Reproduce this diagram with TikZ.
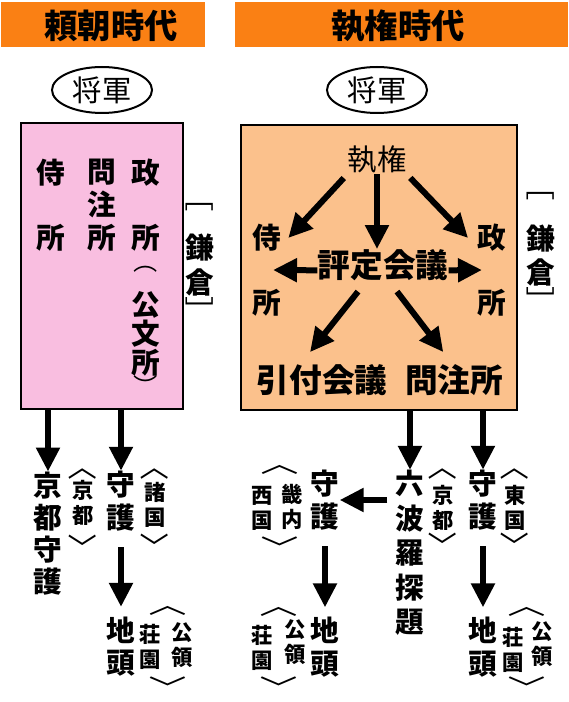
\documentclass[tikz,border=0pt]{standalone}
\usepackage{fontspec}
\newfontfamily\jp{Noto Sans CJK JP}
\usetikzlibrary{arrows.meta,shapes.geometric}
\definecolor{tangerine}{RGB}{250, 128, 20}
\definecolor{sakura}{RGB}{249, 190, 224}
\definecolor{apricot}{RGB}{251, 193, 140}

\tikzset{
  head/.style={font=\jp\bfseries\fontsize{25}{28}\selectfont, inner sep=0pt},
  col/.style={font=\jp\bfseries\fontsize{21.5}{24.5}\selectfont, align=center, inner sep=0pt},
  row/.style={font=\jp\bfseries\fontsize{24.5}{24.5}\selectfont, inner sep=0pt},
  note/.style={font=\jp\bfseries\fontsize{16}{18.75}\selectfont, align=center, inner sep=0pt},
  vbrk/.style={font=\jp\fontsize{#1}{#1}\selectfont, inner sep=0pt, rotate=-90},
  vbrk/.default=22,
  widebrk/.style={vbrk=19, yscale=1.5},
  office/.style={draw, line width=1.5pt, minimum width=#1, inner sep=0pt},
  heavy/.style={line width=4.5pt, -{Triangle[length=18pt,width=17pt]}},
}
% trimmed brackets (ink kept inside the box)
\newcommand\opn[1]{\makebox[.5em][r]{#1}}
\newcommand\cls[1]{\makebox[.5em][l]{#1}}

\begin{document}
\begin{tikzpicture}[x=0.75pt, y=-0.75pt]
            \useasboundingbox (0,0) rectangle (568,702);
            % headings
            \fill[tangerine] (1,2) rectangle (205,47);
            \fill[tangerine] (235,2) rectangle (568,47);
            \node[head] (yoritomo) at (111,26) {頼朝時代};
            \node[head] (shikkenjidai) at (398,26) {執権時代};
            % shogun
            \node[draw, ellipse, line width=1.5pt, minimum width=75pt, minimum height=34.5pt, inner sep=0pt,
                  font=\jp\fontsize{22}{22}\selectfont] (shogunL) at (102,90) {将軍};
            \node[draw, ellipse, line width=1.5pt, minimum width=75pt, minimum height=34.5pt, inner sep=0pt,
                  font=\jp\fontsize{22}{22}\selectfont] (shogunR) at (377,90) {将軍};
            % the two boxes
            \node[office=121.5pt, fill=sakura,  minimum height=214.5pt]  (boxL) at (102,266)   {};
            \node[office=207pt,   fill=apricot, minimum height=213.75pt] (boxR) at (379,267.5) {};

            % ---- Yoritomo
            \node[col] (samuraiL)  at ( 51,205) {侍\\[24.5pt]所};
            \node[col] (monchuL)   at (102,205) {問\\注\\所};
            \node[col] (mandoL)    at (146,205) {政\\[24.5pt]所};
            \node[vbrk=18] (parenA) at (146,267) {\opn{（}};
            \node[col, font=\jp\bfseries\fontsize{21.5}{22}\selectfont] (kumonjo) at (146,334) {公\\文\\所};
            \node[vbrk=18] (parenB) at (146,380) {\cls{）}};
            \node[vbrk] (kamaLa)   at (200,205) {\opn{［}};
            \node[col, font=\jp\bfseries\fontsize{21.5}{26}\selectfont] (kamakuraL) at (200,265) {鎌\\倉};
            \node[vbrk] (kamaLb)   at (200,304) {\cls{］}};

            \node[col, font=\jp\bfseries\fontsize{21.5}{24}\selectfont] (kyotoshugo) at (48,533.5) {京\\都\\守\\護};
            \node[vbrk] (kyoLa)  at ( 83,473) {\opn{〈}};
            \node[note] (kyotoL) at ( 83,502.5) {京\\都};
            \node[vbrk] (kyoLb)  at ( 83,541) {\cls{〉}};
            \node[col]  (shugoL) at (121,501) {守\\護};
            \node[vbrk] (shoLa)  at (155,473) {\opn{〈}};
            \node[note] (shokoku) at (155,504.5) {諸\\国};
            \node[vbrk] (shoLb)  at (155,540) {\cls{〉}};
            \node[col]  (jitoL)  at (121,646.5) {地\\頭};
            \node[widebrk] (koLa) at (168,610) {\opn{〈}};
            \node[note] (shoenL) at (150,647) {荘\\園};
            \node[note] (koryoL) at (182,645.5) {公\\領};
            \node[widebrk] (koLb) at (168,682) {\cls{〉}};

            % ---- Shikken
            \node[font=\jp\fontsize{22}{22}\selectfont, inner sep=0pt] (shikken) at (377,160) {執権};
            \node[col] (samuraiR1) at (267,238) {侍};
            \node[col] (samuraiR2) at (267,303) {所};
            \node[col] (mandoR1)   at (492,238) {政};
            \node[col] (mandoR2)   at (492,303) {所};
            \node[row] (hyojo)     at (383,265) {評定会議};
            \coordinate (hyojoW) at (273,270);
            \coordinate (hyojoE) at (482,270);
            \node[row] (hikitsuke) at (322,380) {引付会議};
            \node[row] (monchuR)   at (454,380) {問注所};
            \node[vbrk] (kamaRa)   at (541,194) {\opn{［}};
            \node[col, font=\jp\bfseries\fontsize{21.5}{25.5}\selectfont] (kamakuraR) at (541,256) {鎌\\倉};
            \node[vbrk] (kamaRb)   at (541,294) {\cls{］}};

            \node[col, font=\jp\bfseries\fontsize{21.5}{25.9}\selectfont] (rokuhara) at (410,553) {六\\波\\羅\\探\\題};
            \node[vbrk] (kyoRa)   at (443,473) {\opn{〈}};
            \node[note] (kyotoR)  at (443,508) {京\\都};
            \node[vbrk] (kyoRb)   at (443,539) {\cls{〉}};
            \node[col]  (shugoE)  at (483,500) {守\\護};
            \node[vbrk] (toRa)    at (515,473) {\opn{〈}};
            \node[note] (togoku)  at (515,508) {東\\国};
            \node[vbrk] (toRb)    at (515,539) {\cls{〉}};
            \node[col]  (shugoW)  at (325,500) {守\\護};
            \node[widebrk] (kiRa) at (280,469) {\opn{〈}};
            \node[note] (kinai)   at (292,506.5) {畿\\内};
            \node[note] (saigoku) at (262,508.5) {西\\国};
            \node[widebrk] (kiRb) at (280,542) {\cls{〉}};
            \node[col]  (jitoW)   at (325,647) {地\\頭};
            \node[widebrk] (koWa) at (279,611) {\opn{〈}};
            \node[note] (koryoW)  at (295,642.5) {公\\領};
            \node[note] (shoenW)  at (262,647.5) {荘\\園};
            \node[widebrk] (koWb) at (279,682) {\cls{〉}};
            \node[col]  (jitoE)   at (483,647) {地\\頭};
            \node[widebrk] (koEa) at (527,611) {\opn{〈}};
            \node[note] (shoenE)  at (513,649.5) {荘\\園};
            \node[note] (koryoE)  at (542,644) {公\\領};
            \node[widebrk] (koEb) at (527,682) {\cls{〉}};

            % arrows
            \draw[heavy] (kyotoshugo.north |- boxL.south) -- (kyotoshugo.north);
            \draw[heavy] (shugoL.north |- boxL.south) -- (shugoL.north);
            \draw[heavy, shorten <=12pt, shorten >=7pt] (shugoL.south) -- (jitoL.north);
            \draw[heavy, shorten <=4pt] (shikken.south west) -- ([xshift=5pt]samuraiR1.east);
            \draw[heavy] (shikken.south) -- (shikken.south |- hyojo.north);
            \draw[heavy, shorten <=4pt] (shikken.south east) -- ([xshift=-7pt]mandoR1.west);
            \draw[heavy] ([yshift=-4pt]hyojo.west) -- (hyojoW);
            \draw[heavy] ([yshift=-4pt]hyojo.east) -- (hyojoE);
            \draw[heavy] ([xshift=-18.75pt, yshift=-8pt]hyojo.south) -- ([xshift=-9pt, yshift=9pt]hikitsuke.north);
            \draw[heavy] ([xshift=10.5pt, yshift=-8pt]hyojo.south) -- ([xshift=-8pt, yshift=9pt]monchuR.north);
            \draw[heavy] (rokuhara.north |- boxR.south) -- (rokuhara.north);
            \draw[heavy] (shugoE.north |- boxR.south) -- (shugoE.north);
            \draw[heavy, shorten <=6pt] (rokuhara.west |- shugoW.east) -- (shugoW.east);
            \draw[heavy, shorten <=12pt, shorten >=7pt] (shugoW.south) -- (jitoW.north);
            \draw[heavy, shorten <=12pt, shorten >=7pt] (shugoE.south) -- (jitoE.north);
\end{tikzpicture}
\end{document}
